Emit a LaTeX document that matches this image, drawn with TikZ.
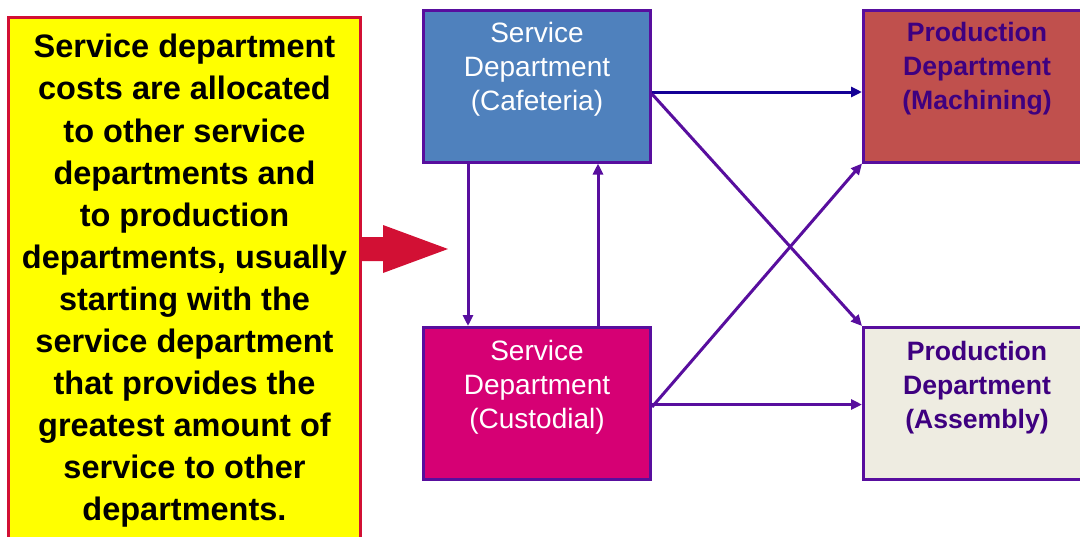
\documentclass[tikz,border=0pt]{standalone}
\usepackage{fontspec}
\setmainfont{Liberation Sans}
\usetikzlibrary{arrows.meta}
\definecolor{notefill}{RGB}{255,255,0}
\definecolor{notered}{RGB}{210,16,52}
\definecolor{edgepurple}{RGB}{88,14,158}
\definecolor{linknavy}{RGB}{20,0,150}
\definecolor{cafblue}{RGB}{79,129,189}
\definecolor{cusmagenta}{RGB}{214,0,116}
\definecolor{machred}{RGB}{192,80,77}
\definecolor{asmbeige}{RGB}{238,236,225}
\definecolor{prodink}{RGB}{62,0,128}

\begin{document}
\begin{tikzpicture}[x=1pt,y=-1pt,
  dept/.style={draw=edgepurple, line width=3pt, minimum width=227pt,
    minimum height=152pt, inner sep=0pt},
  svctext/.style={text=white, font=\fontsize{28}{34}\selectfont,
    align=center, inner sep=0pt, anchor=north},
  prodtext/.style={text=prodink, font=\bfseries\fontsize{26.6}{34}\selectfont,
    align=center, inner sep=0pt, anchor=north},
  link/.style={draw=edgepurple, line width=3pt,
    -{Triangle[length=11pt,width=10pt]}},
  notebox/.style={draw=notered, fill=notefill, line width=3pt,
    minimum width=352pt, minimum height=528pt, inner sep=0pt,
    align=center, font=\bfseries\fontsize{32.5}{42.1}\selectfont}
]
\useasboundingbox (0,0) rectangle (1080,536);
\clip (0,0) rectangle (1080,536);

% explanatory note on the left
\node[notebox] (note) at (184.5,281) {Service department\\costs are allocated\\to other service\\departments and\\to production\\departments, usually\\starting with the\\service department\\that provides the\\greatest amount of\\service to other\\departments.};

% big red pointer
\fill[notered] (362,237) -- (383,237) -- (383,225) -- (448,249)
  -- (383,273) -- (383,261) -- (362,261) -- cycle;

% department boxes
\node[dept, fill=cafblue] (caf) at (537,86) {};
\node[dept, fill=cusmagenta] (cus) at (537,403.5) {};
\node[dept, fill=machred] (mach) at (977,86) {};
\node[dept, fill=asmbeige] (asm) at (977,403.5) {};

\node[svctext] (cafL) at ([yshift=-13.5pt]caf.north) {Service\\Department\\(Cafeteria)};
\node[svctext] (cusL) at ([yshift=-14.5pt]cus.north) {Service\\Department\\(Custodial)};
\node[prodtext] (machL) at ([yshift=-14pt]mach.north) {Production\\Department\\(Machining)};
\node[prodtext] (asmL) at ([yshift=-15pt]asm.north) {Production\\Department\\(Assembly)};

% cost flows
\draw[link, draw=linknavy, fill=linknavy] ([yshift=-6pt]caf.east) -- ([yshift=-6pt]mach.west);
\draw[link, fill=edgepurple] ([yshift=-8pt]caf.east) -- (asm.north west);
\draw[link, fill=edgepurple] ([yshift=-3.5pt]cus.east) -- (mach.south west);
\draw[link, fill=edgepurple] ([yshift=-1pt]cus.east) -- ([yshift=-1pt]asm.west);
\draw[link, fill=edgepurple] ([xshift=-69pt]caf.south) -- ([xshift=-69pt]cus.north);
\draw[link, fill=edgepurple] ([xshift=61pt]cus.north) -- ([xshift=61pt]caf.south);
\end{tikzpicture}
\end{document}
